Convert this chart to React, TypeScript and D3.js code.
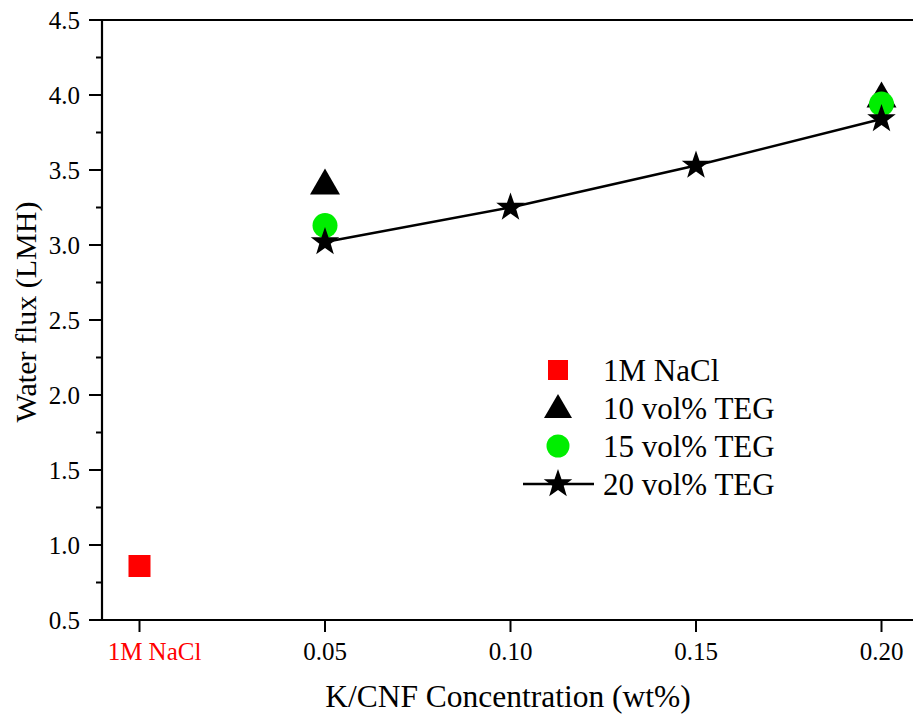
import React from "react";
import * as d3 from "d3";

const W = 913, H = 722;
const xTickValues = [0, 0.05, 0.1, 0.15, 0.2];
const xTickLabels = ["1M NaCl", "0.05", "0.10", "0.15", "0.20"];
const yTickValues = [0.5, 1.0, 1.5, 2.0, 2.5, 3.0, 3.5, 4.0, 4.5];
const naclX = [0];
const naclY = [0.86];
const teg10X = [0.05, 0.2];
const teg10Y = [3.41, 3.99];
const teg15X = [0.05, 0.2];
const teg15Y = [3.13, 3.94];
const teg20X = [0.05, 0.1, 0.15, 0.2];
const teg20Y = [3.02, 3.25, 3.53, 3.84];
const legendLabels = ["1M NaCl", "10 vol% TEG", "15 vol% TEG", "20 vol% TEG"];

const font = "Liberation Serif, Times New Roman, DejaVu Serif, serif";

function starPath(cx: number, cy: number, R: number, r: number) {
  const pts: string[] = [];
  for (let i = 0; i < 10; i++) {
    const a = -Math.PI / 2 + (i * Math.PI) / 5;
    const rad = i % 2 === 0 ? R : r;
    pts.push(`${cx + rad * Math.cos(a)},${cy + rad * Math.sin(a)}`);
  }
  return "M" + pts.join("L") + "Z";
}
function triPath(cx: number, cy: number, w: number, h: number) {
  return `M${cx},${cy - h * 0.58}L${cx + w / 2},${cy + h * 0.42}L${cx - w / 2},${cy + h * 0.42}Z`;
}

export default function App() {
  const left = 102, top = 20, bottom = 620;
  const x = d3.scaleLinear().domain([0, 0.05]).range([139.5, 325]);
  const y = d3.scaleLinear().domain([0.5, 4.5]).range([bottom, top]);
  const minorY = d3.range(0.75, 4.5, 0.5);
  const line = d3.line<number>().x((_, i) => x(teg20X[i])).y((d) => y(d));

  const legX = 558, legY0 = 370, legDy = 38;

  return (
    <svg width={W} height={H} style={{ position: "absolute", left: 0, top: 0, background: "#fff", fontFamily: font }}>
      <rect width={W} height={H} fill="#fff" />
      <line x1={left} x2={W + 5} y1={top} y2={top} stroke="#000" strokeWidth={2.2} />
      <line x1={left} x2={W + 5} y1={bottom} y2={bottom} stroke="#000" strokeWidth={2.2} />
      <line x1={left} x2={left} y1={top - 1} y2={bottom + 1} stroke="#000" strokeWidth={2.2} />
      {yTickValues.map((v) => (
        <g key={v}>
          <line x1={left - 13} x2={left} y1={y(v)} y2={y(v)} stroke="#000" strokeWidth={2} />
          <text x={80} y={y(v)} dy="0.35em" textAnchor="end" style={{ fontFamily: font, fontSize: 25 }}>
            {v.toFixed(1)}
          </text>
        </g>
      ))}
      {minorY.map((v) => (
        <line key={v} x1={left - 6} x2={left} y1={y(v)} y2={y(v)} stroke="#000" strokeWidth={2} />
      ))}
      {xTickValues.map((v, i) => (
        <g key={v}>
          <line x1={x(v)} x2={x(v)} y1={bottom} y2={bottom + 12} stroke="#000" strokeWidth={2} />
          <text
            x={x(v) + (i === 0 ? 15 : 0)}
            y={bottom + 40}
            textAnchor="middle"
            fill={i === 0 ? "#ff0000" : "#000"}
            style={{ fontFamily: font, fontSize: 25 }}
          >
            {xTickLabels[i]}
          </text>
        </g>
      ))}
      <text x={508} y={707} textAnchor="middle" style={{ fontFamily: font, fontSize: 31.5 }}>
        K/CNF Concentration (wt%)
      </text>
      <text transform={`translate(36,312) rotate(-90)`} textAnchor="middle" style={{ fontFamily: font, fontSize: 30 }}>
        Water flux (LMH)
      </text>
      <path d={line(teg20Y) || ""} fill="none" stroke="#000" strokeWidth={2.5} />
      {naclY.map((v, i) => (
        <rect key={i} x={x(naclX[i]) - 11} y={y(v) - 11} width={22} height={22} fill="#ff0000" />
      ))}
      {teg10Y.map((v, i) => (
        <path key={i} d={triPath(x(teg10X[i]), y(v), 30, 26)} fill="#000" />
      ))}
      {teg15Y.map((v, i) => (
        <circle key={i} cx={x(teg15X[i])} cy={y(v)} r={12.5} fill="#00ee00" />
      ))}
      {teg20Y.map((v, i) => (
        <path key={i} d={starPath(x(teg20X[i]), y(v), 15, 6)} fill="#000" />
      ))}
      <rect x={legX - 10} y={legY0 - 10} width={20} height={20} fill="#ff0000" />
      <path d={triPath(legX, legY0 + legDy, 28, 24)} fill="#000" />
      <circle cx={legX} cy={legY0 + 2 * legDy} r={11.5} fill="#00ee00" />
      <line x1={legX - 35} x2={legX + 36} y1={legY0 + 3 * legDy} y2={legY0 + 3 * legDy} stroke="#000" strokeWidth={2.5} />
      <path d={starPath(legX, legY0 + 3 * legDy, 15, 6)} fill="#000" />
      {legendLabels.map((t, i) => (
        <text key={t} x={603} y={legY0 + i * legDy} dy="0.35em" style={{ fontFamily: font, fontSize: 31 }}>
          {t}
        </text>
      ))}
    </svg>
  );
}
